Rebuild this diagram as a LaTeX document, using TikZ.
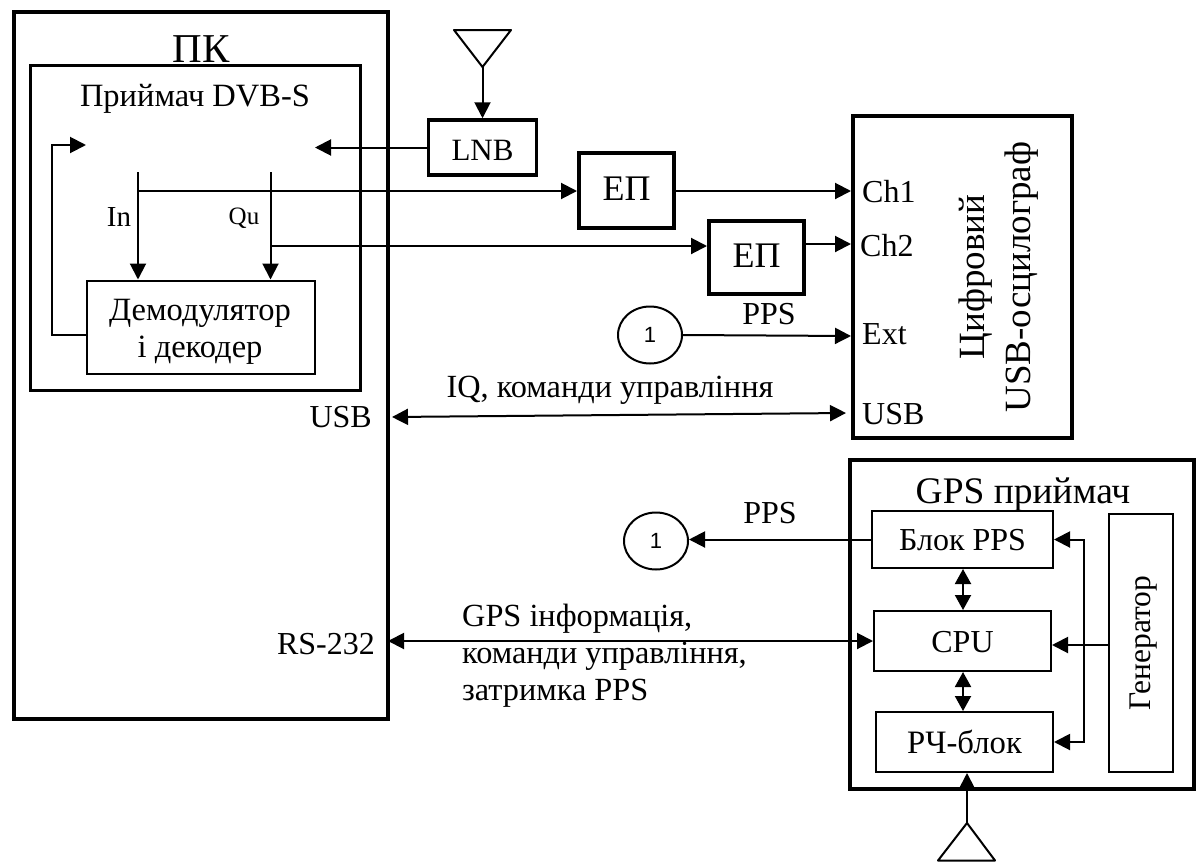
\documentclass[tikz,border=0pt]{standalone}
\usepackage{fontspec}
\setmainfont{Liberation Serif}
\newfontfamily\numfont{Liberation Sans}
\usetikzlibrary{arrows.meta,shapes.geometric}
\newcommand{\fs}[1]{\fontsize{#1}{#1}\selectfont}
\tikzset{
  heavy/.style={draw,line width=4pt,inner sep=0pt},
  medium/.style={draw,line width=3pt,inner sep=0pt},
  light/.style={draw,line width=2pt,inner sep=0pt},
  wire/.style={line width=2pt},
  arr/.style={wire,-{Triangle[length=16pt,width=16pt]}},
  darr/.style={wire,{Triangle[length=16pt,width=16pt]}-{Triangle[length=16pt,width=16pt]}},
  sdarr/.style={wire,{Triangle[length=15pt,width=16pt]}-{Triangle[length=15pt,width=16pt]}},
  lab/.style={inner sep=0pt,anchor=base,font=\fs{32}},
  labw/.style={inner sep=0pt,anchor=base west,font=\fs{32}},
  labe/.style={inner sep=0pt,anchor=base east,font=\fs{32}},
  vlab/.style={inner sep=0pt,anchor=base,rotate=90},
  conn/.style={draw,ellipse,line width=2pt,inner sep=0pt,minimum width=64pt,minimum height=57pt,font=\numfont\fs{22}},
}
\begin{document}
\begin{tikzpicture}[x=1pt,y=-1pt]
\useasboundingbox (0,0) rectangle (1201,862);
% outer boxes
\node[heavy,minimum width=374pt,minimum height=707pt] (pc) at (201,365) {};
\node[medium,minimum width=330pt,minimum height=325pt] (rx) at (195.5,228) {};
\node[light,minimum width=228pt,minimum height=93pt] (dem) at (200.5,327) {};
\node[lab,font=\fs{41}] (pclab) at (201,62) {ПК};
\node[lab,font=\fs{32.5}] (rxlab) at (195,106) {Приймач DVB-S};
\node[lab,font=\fs{32.5}] (dem1) at (200,320) {Демодулятор};
\node[lab,font=\fs{32.5}] (dem2) at (200,357) {і декодер};
% feedback
\coordinate (fbT) at (52,145);
\coordinate (fbtip) at (86,145);
\draw[arr] (dem.west |- 0,335) -- (52,335) -- (fbT) -- (fbtip);
% LNB and antenna
\node[medium,line width=3.5pt,minimum width=108pt,minimum height=55pt,text height=25pt,text depth=0pt,font=\fs{31}] (lnb) at (482.5,147.5) {LNB};
\coordinate (a1) at (454,30);
\coordinate (a2) at (511,30);
\coordinate (a3) at (482.5,67);
\draw[wire,line join=round] (a1) -- (a2) -- (a3) -- cycle;
\draw[arr] (a3) -- (lnb.north);
\coordinate (rxin) at (315,147.5);
\draw[arr] (lnb.west) -- (rxin);
% In / Qu
\coordinate (inS) at (138,172);
\coordinate (quS) at (270.5,172);
\draw[arr] (inS) -- (inS |- dem.north);
\draw[arr] (quS) -- (quS |- dem.north);
\node[lab,font=\fs{29}] (inlab) at (119,226) {In};
\node[lab,font=\fs{25}] (qulab) at (244,224) {Qu};
% EP
\node[heavy,minimum width=95pt,minimum height=75pt,text height=19pt,text depth=0pt,font=\fs{36}] (ep1) at (626.5,190.5) {ЕП};
\node[heavy,minimum width=95pt,minimum height=73pt,text height=19pt,text depth=0pt,font=\fs{36}] (ep2) at (756.5,257.5) {ЕП};
\coordinate (inB) at (138,191);
\coordinate (quB) at (270.5,246);
\draw[arr] (inB) -- (inB -| ep1.west);
\draw[arr] (quB) -- (quB -| ep2.west);
% oscilloscope
\node[heavy,minimum width=219pt,minimum height=322pt] (osc) at (962.5,277) {};
\node[vlab,font=\fs{37}] (osc1) at (984,277) {Цифровий};
\node[vlab,font=\fs{37}] (osc2) at (1030,277) {USB-осцилограф};
\node[labw] (ch1) at (862,202) {Ch1};
\node[labw] (ch2) at (860,256) {Ch2};
\node[labw] (ext) at (862,344) {Ext};
\node[labw] (usbr) at (862,424) {USB};
\coordinate (p1) at (851,191);
\coordinate (p2) at (851,244);
\coordinate (p3) at (851,336);
\draw[arr] (ep1.east |- p1) -- (p1);
\draw[arr] (ep2.east |- p2) -- (p2);
\node[conn] (c1) at (650,335) {1};
\draw[arr] (c1.east) -- (p3);
\node[lab] (pps1) at (769,324) {PPS};
% USB link
\coordinate (usbL) at (392,417);
\coordinate (usbR) at (846,413);
\draw[darr] (usbL) -- (usbR);
\node[labe] (usbl) at (372,427) {USB};
\node[lab,font=\fs{32.3}] (iq) at (610,397) {IQ, команди управління};
% GPS receiver
\node[heavy,minimum width=344pt,minimum height=329pt] (gps) at (1022,624.5) {};
\node[lab,font=\fs{37.5}] (gpslab) at (1023,503) {GPS приймач};
\node[light,minimum width=181pt,minimum height=57pt,text height=21pt,text depth=0pt,font=\fs{32}] (blok) at (962.5,539.5) {Блок PPS};
\node[light,minimum width=177pt,minimum height=60pt,text height=22pt,text depth=0pt,font=\fs{32}] (cpu) at (962.5,641) {CPU};
\node[light,minimum width=177pt,minimum height=60pt,text height=22pt,text depth=0pt,font=\fs{32.7}] (rf) at (964.5,742) {РЧ-блок};
\node[light,minimum width=64pt,minimum height=258pt] (gen) at (1141,643) {};
\node[vlab,font=\fs{31.5}] (genlab) at (1150,643) {Генератор};
\coordinate (busY) at (1084,645);
\draw[arr] (gen.west |- busY) -- (cpu.east |- busY);
\draw[darr] (blok.east) -- (busY |- blok.east) -- (busY |- rf.east) -- (rf.east);
\draw[sdarr] (963,569) -- (963,610);
\draw[sdarr] (963,672) -- (963,711);
% lower antenna
\coordinate (b1) at (938,860.5);
\coordinate (b2) at (995,860.5);
\coordinate (b3) at (967,823);
\draw[wire,line join=round] (b1) -- (b2) -- (b3) -- cycle;
\draw[arr] (b3) -- (b3 |- rf.south);
% PPS out
\node[conn] (c2) at (656,541) {1};
\draw[arr] (blok.west) -- (blok.west -| c2.east);
\node[lab] (pps2) at (770,523) {PPS};
% RS-232
\coordinate (rs) at (388,641);
\draw[darr] (rs) -- (rs -| cpu.west);
\node[labe] (rslab) at (375,654) {RS-232};
\node[labw,font=\fs{32.3}] (g1) at (462,626) {GPS інформація,};
\node[labw,font=\fs{32.3}] (g2) at (462,663) {команди управління,};
\node[labw,font=\fs{32.3}] (g3) at (462,700) {затримка PPS};
\end{tikzpicture}
\end{document}
